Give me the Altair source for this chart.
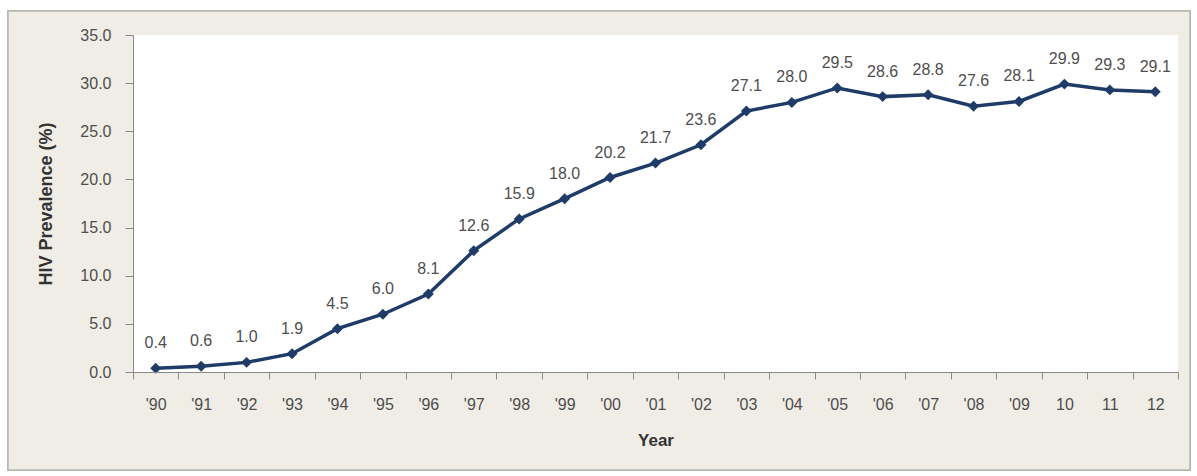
import altair as alt
import pandas as pd

# HIV prevalence by year
years = ["'90", "'91", "'92", "'93", "'94", "'95", "'96", "'97", "'98", "'99",
         "'00", "'01", "'02", "'03", "'04", "'05", "'06", "'07", "'08", "'09",
         "10", "11", "12"]
prevalence = [0.4, 0.6, 1.0, 1.9, 4.5, 6.0, 8.1, 12.6, 15.9, 18.0,
              20.2, 21.7, 23.6, 27.1, 28.0, 29.5, 28.6, 28.8, 27.6, 28.1,
              29.9, 29.3, 29.1]

df = pd.DataFrame({"year": years, "value": prevalence})

W, H = 1045, 337
FONT = "Liberation Sans"
NAVY = "#1f3b68"

x = alt.X("year:N", sort=years, title="Year",
          scale=alt.Scale(paddingInner=0, paddingOuter=0),
          axis=alt.Axis(labelAngle=0, labelFontSize=16, labelColor="#4e4e4e",
                        labelPadding=17, tickBand="extent", tickSize=7,
                        tickColor="#8a8a8a", domainColor="#8a8a8a",
                        titleFontSize=17, titleFontWeight="bold",
                        titleColor="#333", titlePadding=20, grid=False,
                        zindex=2))
y = alt.Y("value:Q", title="HIV Prevalence (%)",
          scale=alt.Scale(domain=[0, 35], nice=False),
          axis=alt.Axis(values=[0, 5, 10, 15, 20, 25, 30, 35], format=".1f",
                        labelFontSize=16, labelColor="#4e4e4e", labelPadding=14,
                        tickSize=8, tickColor="#8a8a8a", domainColor="#8a8a8a",
                        titleFontSize=18, titleFontWeight="bold",
                        titleColor="#333", titlePadding=24, grid=False,
                        zindex=2))

# beige panel behind the whole chart, and the white plotting area
frame = alt.Chart(df).mark_rect(fill="#efede6", stroke="#b8b8b2",
                                strokeWidth=1.5, clip=False).encode(
    x=alt.value(-125), x2=alt.value(1057),
    y=alt.value(-24), y2=alt.value(435))
plot_bg = alt.Chart(df).mark_rect(fill="white", clip=False).encode(
    x=alt.value(0), x2=alt.value(W), y=alt.value(0), y2=alt.value(H))

line = alt.Chart(df).mark_line(color=NAVY, strokeWidth=3.5).encode(x=x, y=y)
points = alt.Chart(df).mark_point(shape="diamond", filled=True, color=NAVY,
                                  size=120, opacity=1).encode(x=x, y=y)
labels = alt.Chart(df).mark_text(font=FONT, fontSize=16, color="#4e4e4e",
                                 baseline="middle", dy=-25).encode(
    x=x, y=y, text=alt.Text("value:Q", format=".1f"))

chart = alt.layer(frame, plot_bg, line, points, labels).properties(
    width=W, height=H,
    padding={"left": 133, "top": 35, "right": 19, "bottom": 104},
    autosize=alt.AutoSizeParams(type="none"),
    background="white",
).configure_view(stroke=None).configure_axis(labelFont=FONT, titleFont=FONT)

chart.save("out.html", embed_options={"renderer": "svg", "actions": False})
